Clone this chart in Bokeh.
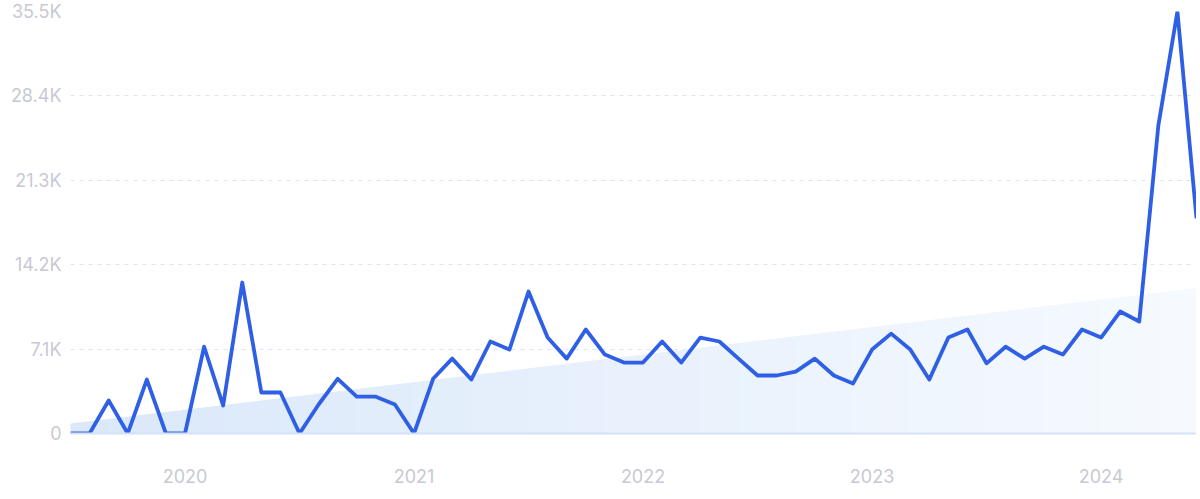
from bokeh.plotting import figure
from bokeh.models import FixedTicker, Range1d, ColumnDataSource
from bokeh.embed import file_html
from bokeh.resources import INLINE

months = [f"{y}-{m:02d}" for y in range(2019, 2025) for m in range(1, 13)][6:66]
values = [0, 0, 2.78, 0, 4.54, 0,
          0, 7.3, 2.35, 12.7, 3.45, 3.45, 0, 2.44, 4.6, 3.1, 3.1, 2.44,
          0, 4.6, 6.3, 4.54, 7.74, 7.06, 11.94, 8.07, 6.3, 8.75, 6.64, 5.97,
          5.97, 7.74, 5.97, 8.07, 7.74, 6.3, 4.88, 4.88, 5.2, 6.3, 4.88, 4.2,
          7.06, 8.4, 7.06, 4.54, 8.07, 8.75, 5.9, 7.3, 6.3, 7.3, 6.64, 8.75,
          8.07, 10.26, 9.42, 25.9, 35.5, 18.1]
values = [v * 1000 for v in values]
trend_start = 800
trend_end = 12200
year_ticks = [6, 18, 30, 42, 54]
year_labels = ["2020", "2021", "2022", "2023", "2024"]
y_ticks = [0, 7100, 14200, 21300, 28400, 35500]
y_labels = ["0", "7.1K", "14.2K", "21.3K", "28.4K", "35.5K"]

n = len(values)
x = list(range(n))

p = figure(width=1196, height=491, output_backend="svg", toolbar_location=None,
           x_range=Range1d(0, n - 1), y_range=Range1d(0, 35500),
           min_border_left=70, min_border_right=0, min_border_top=11, min_border_bottom=58)
p.outline_line_color = None
p.background_fill_color = "white"
p.border_fill_color = "white"

# gradient-like trend area
def lerp(a, b, t):
    return a + (b - a) * t

c0 = (218, 232, 250)
c1 = (246, 250, 254)
xs, ys, cols = [], [], []
for i in range(n - 1):
    t0 = trend_start + (trend_end - trend_start) * i / (n - 1)
    t1 = trend_start + (trend_end - trend_start) * (i + 1) / (n - 1)
    xs.append([i, i + 1, i + 1, i])
    ys.append([0, 0, t1, t0])
    f = (i + 0.5) / (n - 1)
    c = tuple(int(round(lerp(c0[k], c1[k], f))) for k in range(3))
    cols.append("#%02x%02x%02x" % c)
p.patches(xs, ys, fill_color=cols, line_color=cols, line_width=1)

src = ColumnDataSource(dict(x=x, y=values, month=months))
p.line("x", "y", source=src, line_color="#2f5fe4", line_width=3.8, line_join="round")

p.xgrid.grid_line_color = None
p.ygrid.grid_line_color = "#d9e4f6"
p.ygrid.grid_line_dash = "4 5"
p.ygrid.grid_line_width = 1
p.ygrid.ticker = FixedTicker(ticks=y_ticks[1:])

p.xaxis.ticker = FixedTicker(ticks=year_ticks)
p.xaxis.major_label_overrides = {t: l for t, l in zip(year_ticks, year_labels)}
p.xaxis.axis_line_color = "#d3e2f8"
p.xaxis.axis_line_width = 2
p.xaxis.major_tick_line_color = None
p.xaxis.minor_tick_line_color = None
p.xaxis.major_label_standoff = 29
p.xaxis.major_label_text_font = "Inter"
p.xaxis.major_label_text_font_size = "18px"
p.xaxis.major_label_text_color = "#c8c9d3"

p.yaxis.ticker = FixedTicker(ticks=y_ticks)
p.yaxis.major_label_overrides = {t: l for t, l in zip(y_ticks, y_labels)}
p.yaxis.axis_line_color = None
p.yaxis.major_tick_line_color = None
p.yaxis.minor_tick_line_color = None
p.yaxis.major_label_standoff = 3
p.yaxis.major_label_text_font = "Inter"
p.yaxis.major_label_text_font_size = "18px"
p.yaxis.major_label_text_color = "#c8c9d3"

open("out.html", "w").write(file_html(p, INLINE))
